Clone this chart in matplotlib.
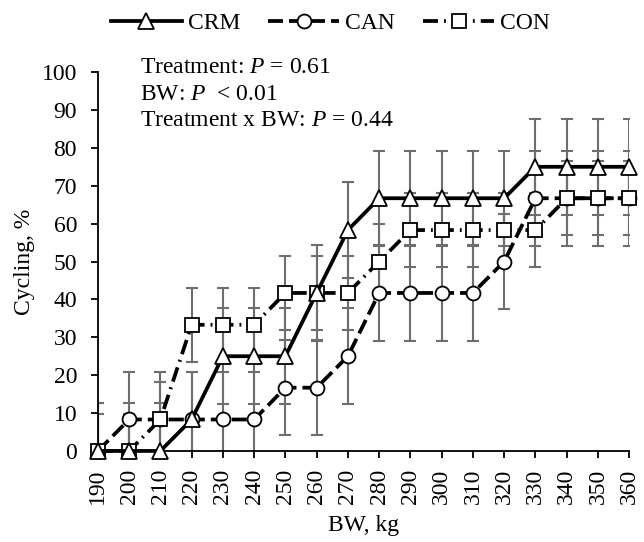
import matplotlib
matplotlib.use("Agg")
import matplotlib.pyplot as plt
import numpy as np

bw = [190, 200, 210, 220, 230, 240, 250, 260, 270, 280, 290, 300, 310, 320, 330, 340, 350, 360]
crm = [0, 0, 0, 8.3, 25, 25, 25, 41.7, 58.3, 66.7, 66.7, 66.7, 66.7, 66.7, 75, 75, 75, 75]
can = [0, 8.3, 8.3, 8.3, 8.3, 8.3, 16.7, 16.7, 25, 41.7, 41.7, 41.7, 41.7, 50, 66.7, 66.7, 66.7, 66.7]
con = [0, 0, 8.3, 33.3, 33.3, 33.3, 41.7, 41.7, 41.7, 50, 58.3, 58.3, 58.3, 58.3, 58.3, 66.7, 66.7, 66.7]
se_crm = 12.6
se_can = 12.6
se_con = 9.8

plt.rcParams['font.family'] = ['Liberation Serif', 'DejaVu Serif']
plt.rcParams['mathtext.fontset'] = 'custom'
plt.rcParams['mathtext.rm'] = 'Liberation Serif'
plt.rcParams['mathtext.it'] = 'Liberation Serif:italic'

FS = 17
fig = plt.figure(figsize=(6.44, 5.42), dpi=100)
ax = fig.add_axes([0.152, 0.168, 0.825, 0.699])

ecol = '#6e6e6e'
for vals, se in [(crm, se_crm), (can, se_can), (con, se_con)]:
    ax.errorbar(bw, vals, yerr=se, fmt='none', ecolor=ecol, elinewidth=1.5,
                capsize=4, capthick=1.5, zorder=2)

lw = 2.7
l1, = ax.plot(bw, crm, color='black', lw=lw, ls='-', marker='^', ms=11,
              mfc='white', mec='black', mew=1.3, zorder=5, clip_on=False, label='CRM')
l2, = ax.plot(bw, can, color='black', lw=lw, ls=(0, (4.0, 1.6)), marker='o', ms=10,
              mfc='white', mec='black', mew=1.3, zorder=4, clip_on=False, label='CAN')
l3, = ax.plot(bw, con, color='black', lw=lw, ls=(0, (4.0, 1.6, 0.5, 1.6)), marker='s', ms=10,
              mfc='white', mec='black', mew=1.3, zorder=4.5, clip_on=False, label='CON')

ax.set_xlim(190, 360)
ax.set_ylim(0, 100)
ax.set_xticks(bw)
ax.set_xticklabels([str(v) for v in bw], rotation=90)
ax.set_yticks(np.arange(0, 101, 10))
ax.tick_params(axis='both', labelsize=FS, direction='out', length=5, width=1.3)
ax.tick_params(axis='x', pad=8)
ax.tick_params(axis='y', pad=10)
for s in ['top', 'right']:
    ax.spines[s].set_visible(False)
for s in ['left', 'bottom']:
    ax.spines[s].set_linewidth(1.3)

ax.set_xlabel('BW, kg', fontsize=FS, labelpad=8)
ax.set_ylabel('Cycling, %', fontsize=FS, labelpad=5)

tx = 0.080
ax.text(tx, 1.013, 'Treatment: $P$ = 0.61', transform=ax.transAxes, fontsize=FS, va='center')
ax.text(tx, 0.942, 'BW: $P$  < 0.01', transform=ax.transAxes, fontsize=FS, va='center')
ax.text(tx, 0.871, 'Treatment x BW: $P$ = 0.44', transform=ax.transAxes, fontsize=FS, va='center')

fig.legend(handles=[l1, l2, l3], loc='center', bbox_to_anchor=(0.513, 0.957), ncol=3,
           frameon=False, fontsize=FS, handlelength=3.0, columnspacing=1.2, handletextpad=0.25)

fig.savefig('out.png', dpi=100)
